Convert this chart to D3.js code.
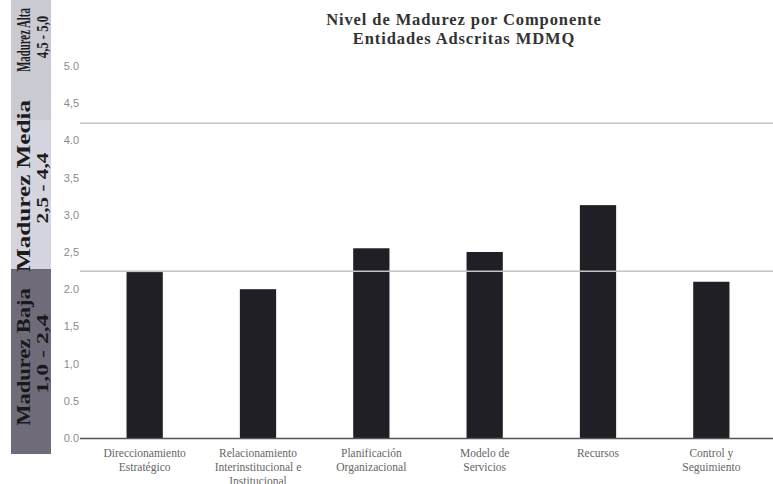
<!DOCTYPE html>
<html><head><meta charset="utf-8">
<script src="https://cdn.jsdelivr.net/npm/d3@7/dist/d3.min.js"></script>
<style>body{margin:0;background:#fff}svg{display:block}</style>
</head><body>
<svg id="c" width="773" height="484"></svg>
<script>
const categories = [
  ["Direccionamiento","Estratégico"],
  ["Relacionamiento","Interinstitucional e","Institucional"],
  ["Planificación","Organizacional"],
  ["Modelo de","Servicios"],
  ["Recursos"],
  ["Control y","Seguimiento"]
];
const values = [2.23, 2.0, 2.55, 2.5, 3.13, 2.1];
const yTicks = [0,0.5,1,1.5,2,2.5,3,3.5,4,4.5,5];
const yTickLabels = ["0.0","0.5","1,0","1,5","2.0","2,5","3,0","3,5","4.0","4,5","5.0"];
const refLines = [4.23, 2.24];
const bandLabels = [
  {title:"Madurez Alta", range:"4,5 - 5,0"},
  {title:"Madurez Media", range:"2,5 - 4,4"},
  {title:"Madurez Baja", range:"1,0 - 2,4"}
];
const titleLines = ["Nivel de Madurez por Componente","Entidades Adscritas MDMQ"];

const svg = d3.select("#c");
const x = d3.scaleBand().domain(d3.range(categories.length)).range([88,768]).paddingInner(0.68).paddingOuter(0.34);
const y = d3.scaleLinear().domain([0,5]).range([438,66]);

// left band (layout only)
const bands = [
  {y0:0, y1:120, fill:"#cacad3", text:"#1c1c1c", cy:40, sx:0.6, cr:37, rsx:0.75},
  {y0:120, y1:269, fill:"#d5d5e0", text:"#1c1c1c", cy:186, sx:1.4, cr:188, rsx:1.25},
  {y0:269, y1:454, fill:"#6f6b78", text:"#19191d", cy:357, sx:1.25, cr:354, rsx:1.4}
];
svg.selectAll("rect.band").data(bands).join("rect").attr("class","band")
  .attr("x",11).attr("width",40).attr("y",d=>d.y0).attr("height",d=>d.y1-d.y0).attr("fill",d=>d.fill);
bands.forEach((b,i)=>{
  svg.append("text").attr("transform",`translate(30,${b.cy}) rotate(-90) scale(${b.sx},1)`)
    .attr("text-anchor","middle")
    .attr("font-family","Liberation Serif, serif").attr("font-weight","bold").attr("font-size",18)
    .attr("fill",b.text).text(bandLabels[i].title);
  svg.append("text").attr("transform",`translate(48,${b.cr}) rotate(-90) scale(${b.rsx},1)`)
    .attr("text-anchor","middle")
    .attr("font-family","Liberation Serif, serif").attr("font-weight","bold").attr("font-size",17)
    .attr("fill",b.text).text(bandLabels[i].range);
});

// title
svg.selectAll("text.title").data(titleLines).join("text").attr("class","title")
  .attr("x",464).attr("y",(d,i)=>25+i*19).attr("text-anchor","middle")
  .attr("font-family","Liberation Serif, serif").attr("font-weight","bold").attr("font-size",16.5)
  .attr("letter-spacing","0.9").attr("fill","#333").text(d=>d);

// y axis labels
const yAxis = d3.axisLeft(y).tickValues(yTicks).tickSize(0).tickPadding(0)
  .tickFormat((d,i)=>yTickLabels[i]);
const ya = svg.append("g").attr("transform","translate(79,0)").call(yAxis);
ya.select(".domain").remove();
ya.selectAll("text").attr("font-family","Liberation Sans, sans-serif").attr("font-size",11).attr("fill","#8a8a8a");

// bars
svg.selectAll("rect.bar").data(values).join("rect").attr("class","bar")
  .attr("x",(d,i)=>x(i)).attr("width",x.bandwidth())
  .attr("y",d=>y(d)).attr("height",d=>y(0)-y(d)).attr("fill","#1f1f25");

// reference lines
svg.selectAll("line.ref").data(refLines).join("line").attr("class","ref")
  .attr("x1",80).attr("x2",773).attr("y1",d=>y(d)).attr("y2",d=>y(d))
  .attr("stroke","#c4c4c4").attr("stroke-width",1.5);

// x axis
const xa = svg.append("g").attr("transform","translate(0,438)")
  .call(d3.axisBottom(x).tickSize(0).tickFormat(""));
xa.select(".domain").attr("d","M80,0.5H773").attr("stroke","#555").attr("stroke-width",1.5);
categories.forEach((lines,i)=>{
  const t = svg.append("text").attr("x",x(i)+x.bandwidth()/2).attr("y",457)
    .attr("text-anchor","middle").attr("font-family","Liberation Serif, serif")
    .attr("font-size",11.5).attr("fill","#666");
  lines.forEach((l,j)=>t.append("tspan").attr("x",x(i)+x.bandwidth()/2).attr("dy",j?14:0).text(l));
});
</script>
</body></html>
